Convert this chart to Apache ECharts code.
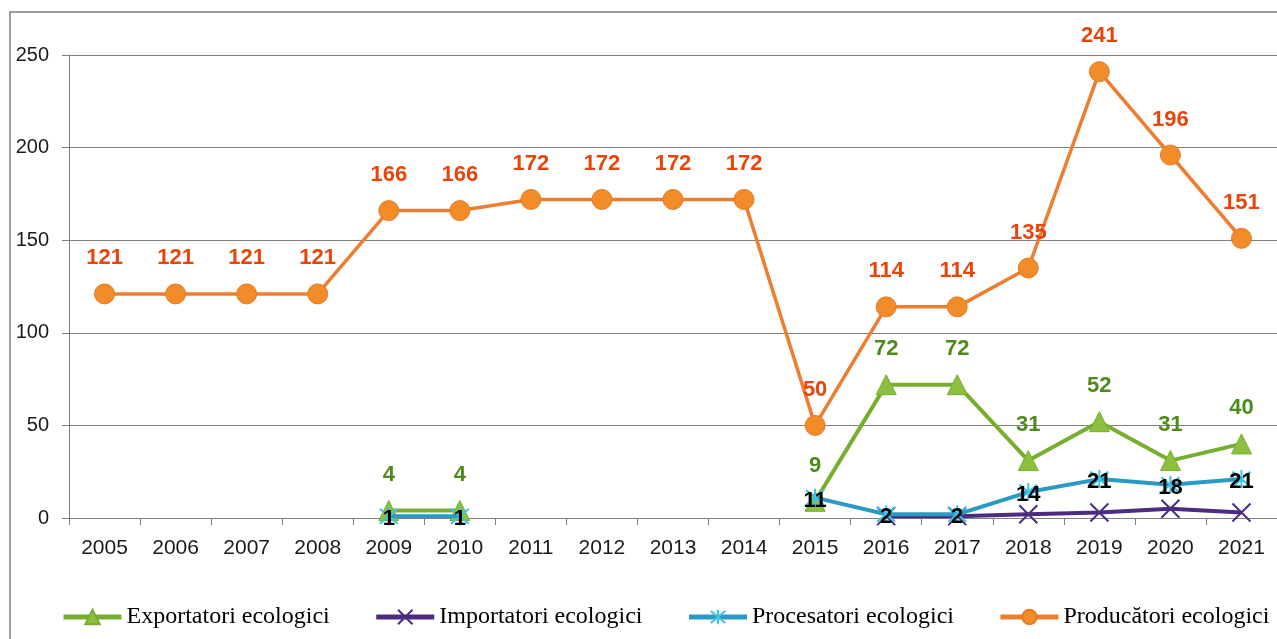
<!DOCTYPE html>
<html>
<head>
<meta charset="utf-8">
<style>
  html, body { margin: 0; padding: 0; background: #fff; }
  #chart { width: 1277px; height: 639px; }
</style>
<script src="https://cdn.jsdelivr.net/npm/echarts@6/dist/echarts.min.js"></script>
</head>
<body>
<div id="chart"></div>
<script>
// categories (years)
var years = ['2005', '2006', '2007', '2008', '2009', '2010', '2011', '2012', '2013',
  '2014', '2015', '2016', '2017', '2018', '2019', '2020', '2021']

// series values, '-' = no data
var exportatori = ['-', '-', '-', '-', 4, 4, '-', '-', '-', '-', 9, 72, 72, 31, 52, 31, 40]
var importatori = ['-', '-', '-', '-', '-', '-', '-', '-', '-', '-', '-', 1, 1, 2, 3, 5, 3]
var procesatori = ['-', '-', '-', '-', 1, 1, '-', '-', '-', '-', 11, 2, 2, 14, 21, 18, 21]
var producatori = [121, 121, 121, 121, 166, 166, 172, 172, 172, 172, 50, 114, 114, 135, 241, 196, 151]

var seriesNames = ['Exportatori ecologici', 'Importatori ecologici', 'Procesatori ecologici', 'Producători ecologici']

var crossPath = 'path://M0,0L10,10M10,0L0,10'
var starPath = 'path://M0,0L10,10M10,0L0,10M5,-1L5,11'

var chart = echarts.init(document.getElementById('chart'))

chart.setOption({
  animation: false,
  backgroundColor: '#fff',
  graphic: [{
    type: 'rect',
    shape: { x: 10, y: 12, width: 1290, height: 640 },
    style: { fill: 'none', stroke: '#7f7f7f', lineWidth: 1.5 },
    silent: true
  }],
  grid: {
    left: 69,
    right: 0,
    top: 55,
    bottom: 121
  },
  legend: {
    data: seriesNames,
    bottom: 5,
    left: 56,
    width: 1300,
    itemWidth: 58,
    itemHeight: 18,
    itemGap: 44,
    lineStyle: { width: 5 },
    textStyle: {
      fontFamily: 'Liberation Serif',
      fontSize: 24,
      color: '#000'
    }
  },
  xAxis: {
    type: 'category',
    data: years,
    boundaryGap: true,
    axisLine: { lineStyle: { color: '#7f7f7f', width: 1 } },
    axisTick: { show: true, length: 7, lineStyle: { color: '#7f7f7f' } },
    axisLabel: {
      margin: 20,
      fontFamily: 'Liberation Sans',
      fontSize: 21,
      color: '#1a1a1a'
    }
  },
  yAxis: {
    type: 'value',
    min: 0,
    max: 250,
    interval: 50,
    axisLine: { show: true, lineStyle: { color: '#7f7f7f', width: 1 } },
    axisTick: { show: true, length: 7, lineStyle: { color: '#7f7f7f' } },
    splitLine: { lineStyle: { color: '#7f7f7f', width: 1 } },
    axisLabel: {
      margin: 20,
      fontFamily: 'Liberation Sans',
      fontSize: 20,
      color: '#1a1a1a'
    }
  },
  series: [
    {
      name: seriesNames[0],
      type: 'line',
      data: exportatori,
      connectNulls: false,
      symbol: 'triangle',
      symbolSize: 20,
      lineStyle: { color: '#78AE2F', width: 4 },
      itemStyle: { color: '#8DBF3E', borderColor: '#78AE2F', borderWidth: 1 },
      label: {
        show: true,
        position: 'top',
        distance: 14,
        color: '#4E8A1C',
        fontFamily: 'Liberation Sans',
        fontWeight: 'bold',
        fontSize: 22
      },
      z: 2
    },
    {
      name: seriesNames[1],
      type: 'line',
      data: importatori,
      connectNulls: false,
      symbol: crossPath,
      symbolSize: 18,
      lineStyle: { color: '#4B2C80', width: 4 },
      itemStyle: { color: '#4B2C80', borderColor: '#4B2C80', borderWidth: 2 },
      label: { show: false },
      z: 3
    },
    {
      name: seriesNames[2],
      type: 'line',
      data: procesatori,
      connectNulls: false,
      symbol: starPath,
      symbolSize: 18,
      lineStyle: { color: '#2A9AC4', width: 4 },
      itemStyle: { color: '#3EC3E8', borderColor: '#3EC3E8', borderWidth: 2 },
      label: {
        show: true,
        position: 'inside',
        offset: [0, 3],
        color: '#000',
        fontFamily: 'Liberation Sans',
        fontWeight: 'bold',
        fontSize: 22
      },
      z: 4
    },
    {
      name: seriesNames[3],
      type: 'line',
      data: producatori,
      connectNulls: false,
      symbol: 'circle',
      symbolSize: 20,
      lineStyle: { color: '#ED7D31', width: 3.5 },
      itemStyle: { color: '#F28C28', borderColor: '#E87A22', borderWidth: 1 },
      label: {
        show: true,
        position: 'top',
        distance: 14,
        color: '#E8450C',
        fontFamily: 'Liberation Sans',
        fontWeight: 'bold',
        fontSize: 22
      },
      z: 5
    }
  ]
})
</script>
</body>
</html>
